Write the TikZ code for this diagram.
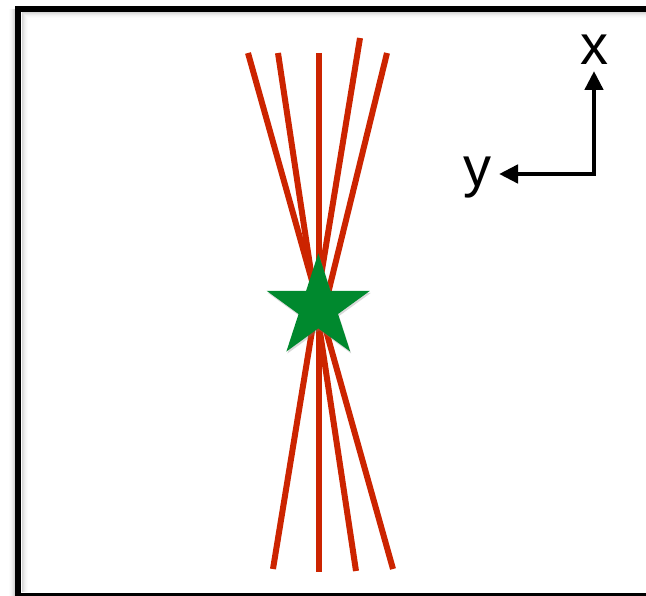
\documentclass[tikz,border=0pt]{standalone}
\usepackage{fontspec}
\setmainfont{Liberation Sans}
\usetikzlibrary{arrows.meta,shapes.geometric,shadows}
\definecolor{rayred}{RGB}{204,36,0}
\definecolor{stargreen}{RGB}{0,137,46}
\definecolor{shadegray}{RGB}{120,120,120}

\begin{document}
\begin{tikzpicture}[x=1pt,y=-1pt,
  ray/.style={rayred,line width=6pt},
  frame/.style={line width=6pt,black},
  axis/.style={{Triangle[length=19pt,width=18pt]}-{Triangle[length=19pt,width=18pt]},
               line width=4.5pt,miter limit=4},
  lbl/.style={font=\fontsize{56}{60}\selectfont,inner sep=0pt},
  ]
  \useasboundingbox (0,0) rectangle (646,596);
  % soft shadow along the frame
  \foreach \d/\o in {1/0.30,2/0.22,3/0.15,4/0.09,5/0.05,6/0.02}{
    \draw[shadegray,opacity=\o,line width=1pt] (21+\d,12+\d) -- (660,12+\d);
    \draw[shadegray,opacity=\o,line width=1pt] (21+\d,12+\d) -- (21+\d,592);
    \draw[shadegray,opacity=\o,line width=1pt] (15-\d,9) -- (15-\d,600);
  }
  \draw[frame] (18,9.5) rectangle (670,595.5);
  % rays through the source
  \coordinate (r1a) at (248,53);  \coordinate (r1b) at (393,569);
  \coordinate (r2a) at (278,53);  \coordinate (r2b) at (356,571);
  \coordinate (r3a) at (319,53);  \coordinate (r3b) at (319,572);
  \coordinate (r4a) at (360,38);  \coordinate (r4b) at (273,569);
  \coordinate (r5a) at (387,53);  \coordinate (r5b) at (322,318);
  \foreach \r in {1,...,5}
    \draw[ray] (r\r a) -- (r\r b);
  \node[star,star points=5,star point ratio=2.618,minimum size=108.6pt,
        inner sep=0pt,fill=stargreen,
        drop shadow={opacity=0.3,shadow xshift=1pt,shadow yshift=-2pt}]
        (src) at (318.3,307.6) {};
  % axes
  \coordinate (o) at (594,174);
  \coordinate (xtip) at (594,71);
  \coordinate (ytip) at (499,174);
  \draw[axis] (xtip) -- (o) -- (ytip);
  \node[lbl] (xlabel) at (594,50) {x};
  \node[lbl,anchor=base] (ylabel) at (477,187) {y};
\end{tikzpicture}
\end{document}
